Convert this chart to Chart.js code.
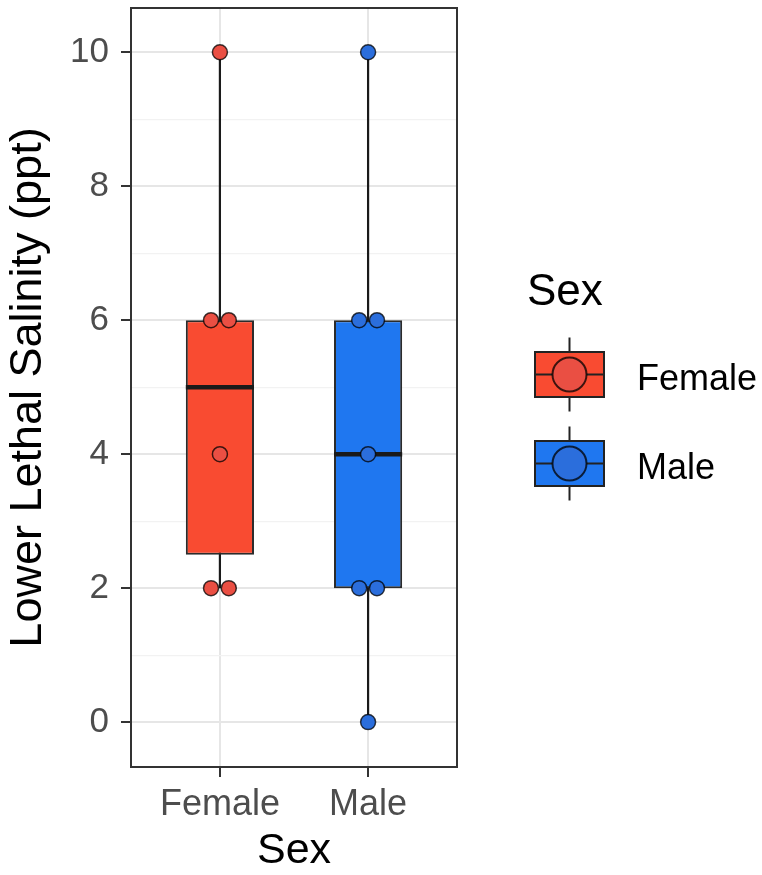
<!DOCTYPE html>
<html>
<head>
<meta charset="utf-8">
<script src="https://cdn.jsdelivr.net/npm/chart.js@4.4.0/dist/chart.umd.min.js"></script>
<style>
  html, body { margin: 0; padding: 0; background: #fff; }
  #wrap { width: 762px; height: 875px; }
</style>
</head>
<body>
<div id="wrap"><canvas id="grafico" width="762" height="875"></canvas></div>
<script>
// categorias e cores
const sexos = ["Female", "Male"];
const corCaixa = ["#F94B31", "#1F77F0"];
const corPonto = ["#EA4F43", "#2B6EDC"];

// resumo do boxplot
const q1 = [2.5, 2];
const mediana = [5, 4];
const q3 = [6, 6];
const bigodeMin = [2, 0];
const bigodeMax = [10, 10];

// pontos individuais + deslocamento horizontal (jitter)
const pontosFemale = [10, 6, 6, 4, 2, 2];
const desvioFemale = [0, -0.06, 0.06, 0, -0.06, 0.06];
const pontosMale = [10, 6, 6, 4, 2, 2, 0];
const desvioMale = [0, -0.06, 0.06, 0, -0.06, 0.06, 0];

// ticks do eixo y
const yMaior = [0, 2, 4, 6, 8, 10];
const yMenor = [1, 3, 5, 7, 9];

const LARGURA = 0.46; // largura da caixa em unidades do eixo x
const fonte = '"Liberation Sans", Arial, sans-serif';

const centros = sexos.map((s, i) => i + 1);

// bigodes: uma linha por grupo, separadas por null
const dadosBigode = [];
centros.forEach((x, i) => {
    dadosBigode.push({ x: x, y: bigodeMin[i] }, { x: x, y: bigodeMax[i] }, { x: x, y: null });
});

// medianas
const dadosMediana = [];
centros.forEach((x, i) => {
    dadosMediana.push({ x: x - LARGURA / 2, y: mediana[i] }, { x: x + LARGURA / 2, y: mediana[i] }, { x: x, y: null });
});

const pontos = [pontosFemale, pontosMale];
const desvios = [desvioFemale, desvioMale];

const datasetsPontos = sexos.map((s, i) => ({
    type: "scatter",
    label: s,
    data: pontos[i].map((v, j) => ({ x: centros[i] + desvios[i][j], y: v })),
    backgroundColor: corPonto[i],
    borderColor: "rgba(0,0,0,0.75)",
    borderWidth: 1.5,
    pointRadius: 7.5,
    order: 0
}));

// borda do painel (estilo ggplot theme_bw)
const bordaPainel = {
    id: "bordaPainel",
    afterDatasetsDraw(chart) {
        const a = chart.chartArea;
        const ctx = chart.ctx;
        ctx.save();
        ctx.strokeStyle = "#333333";
        ctx.lineWidth = 2;
        ctx.strokeRect(a.left, a.top, a.right - a.left, a.bottom - a.top);
        ctx.restore();
    }
};

// legenda desenhada à mão
const legenda = {
    id: "legenda",
    afterDraw(chart) {
        const ctx = chart.ctx;
        ctx.save();
        ctx.fillStyle = "#000";
        ctx.font = "44px " + fonte;
        ctx.textBaseline = "alphabetic";
        ctx.fillText("Sex", 527, 305);
        sexos.forEach((s, i) => {
            const cy = 374.5 + i * 89;
            const cx = 569.5;
            ctx.strokeStyle = "#222222";
            ctx.lineWidth = 2;
            ctx.beginPath();
            ctx.moveTo(cx, cy - 37);
            ctx.lineTo(cx, cy + 37);
            ctx.stroke();
            ctx.fillStyle = corCaixa[i];
            ctx.fillRect(535, cy - 22.5, 69, 45);
            ctx.strokeRect(535, cy - 22.5, 69, 45);
            ctx.beginPath();
            ctx.moveTo(535, cy);
            ctx.lineTo(604, cy);
            ctx.stroke();
            ctx.beginPath();
            ctx.arc(cx, cy, 17, 0, Math.PI * 2);
            ctx.fillStyle = corPonto[i];
            ctx.fill();
            ctx.strokeStyle = "rgba(0,0,0,0.75)";
            ctx.stroke();
            ctx.fillStyle = "#000";
            ctx.font = "36px " + fonte;
            ctx.fillText(s, 637, cy + 15);
        });
        ctx.restore();
    }
};

Chart.defaults.font.family = fonte;

const ctx = document.getElementById("grafico").getContext("2d");
const grafico = new Chart(ctx, {
    type: "scatter",
    data: {
        datasets: [
            {
                type: "bar",
                label: "caixa",
                data: centros.map((x, i) => ({ x: x, y: [q1[i], q3[i]] })),
                backgroundColor: corCaixa,
                borderColor: "#2b2b2b",
                borderWidth: 2,
                borderSkipped: false,
                barPercentage: LARGURA,
                categoryPercentage: 1,
                order: 2
            },
            {
                type: "line",
                label: "bigode",
                data: dadosBigode,
                showLine: true,
                spanGaps: false,
                borderColor: "#1a1a1a",
                borderWidth: 2.2,
                pointRadius: 0,
                order: 3
            },
            {
                type: "line",
                label: "mediana",
                data: dadosMediana,
                showLine: true,
                spanGaps: false,
                borderColor: "#1a1a1a",
                borderWidth: 4.5,
                pointRadius: 0,
                order: 1
            },
            ...datasetsPontos
        ]
    },
    options: {
        responsive: false,
        animation: false,
        layout: { padding: { top: 8, right: 305, left: 0, bottom: 0 }, autoPadding: false },
        plugins: {
            legend: { display: false },
            tooltip: { enabled: false }
        },
        scales: {
            x: {
                type: "linear",
                min: 0.4,
                max: 2.6,
                offset: false,
                afterBuildTicks: (s) => { s.ticks = centros.map(v => ({ value: v })); },
                afterFit: (s) => { s.height = 108; s.paddingLeft = 0; s.paddingRight = 0; },
                ticks: {
                    callback: (v) => sexos[v - 1],
                    color: "#4D4D4D",
                    font: { size: 36 },
                    padding: 6,
                    autoSkip: false,
                    maxRotation: 0
                },
                grid: {
                    offset: false,
                    color: "#E6E6E6",
                    lineWidth: 2,
                    tickColor: "#333333",
                    tickWidth: 2,
                    tickLength: 10
                },
                border: { display: false },
                title: {
                    display: true,
                    text: "Sex",
                    color: "#000",
                    font: { size: 43, lineHeight: 1.1 },
                    padding: 0
                }
            },
            y: {
                type: "linear",
                min: -0.67,
                max: 10.66,
                afterBuildTicks: (s) => {
                    s.ticks = yMaior.concat(yMenor).sort((a, b) => a - b).map(v => ({ value: v }));
                },
                afterFit: (s) => { s.width = 131; s.paddingTop = 0; s.paddingBottom = 0; },
                ticks: {
                    callback: (v) => (yMaior.includes(v) ? String(v) : ""),
                    color: "#4D4D4D",
                    font: { size: 35 },
                    padding: 12,
                    autoSkip: false
                },
                grid: {
                    color: (c) => (yMaior.includes(c.tick.value) ? "#E6E6E6" : "#F2F2F2"),
                    lineWidth: (c) => (yMaior.includes(c.tick.value) ? 2 : 1.2),
                    tickColor: (c) => (yMaior.includes(c.tick.value) ? "#333333" : "rgba(0,0,0,0)"),
                    tickWidth: 2,
                    tickLength: 10
                },
                border: { display: false },
                title: {
                    display: true,
                    text: "Lower Lethal Salinity (ppt)",
                    color: "#000",
                    font: { size: 45 },
                    padding: { top: 2, bottom: 0 }
                }
            }
        }
    },
    plugins: [bordaPainel, legenda]
});
</script>
</body>
</html>
